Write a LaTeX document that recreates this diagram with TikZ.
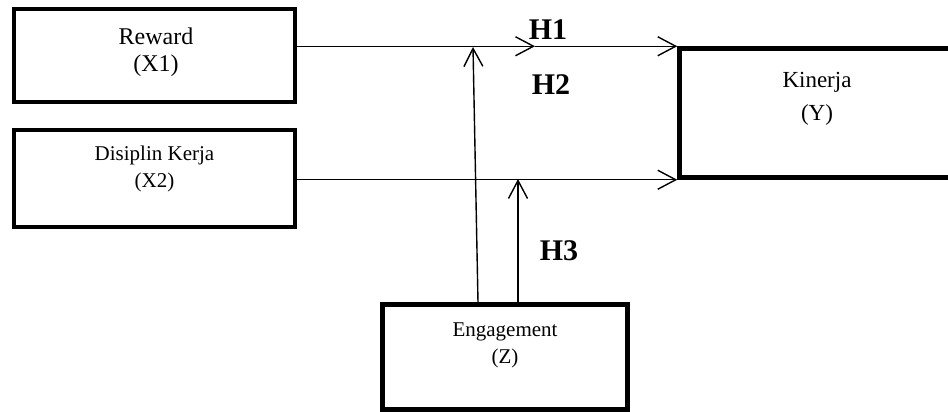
\documentclass[tikz,border=0pt]{standalone}
\usepackage{fontspec}
\setmainfont{Liberation Serif}
\usetikzlibrary{arrows.meta,calc}
\begin{document}
\begin{tikzpicture}[x=1pt,y=-1pt,
  boxnode/.style={draw=black, line width=4.5pt, rectangle, inner sep=0pt},
  conn/.style={line width=1.4pt, -{Straight Barb[length=18pt,width=19pt,line width=1.4pt]}},
  lbl/.style={align=center, inner sep=0pt, anchor=north},
  hyp/.style={font=\fontsize{30}{30}\selectfont\bfseries, inner sep=0pt, anchor=base}]
\useasboundingbox (0,0) rectangle (948,412);
% boxes
\node[boxnode, minimum width=281pt, minimum height=93pt] (x1) at (154.5,55.5) {};
\node[boxnode, minimum width=281pt, minimum height=97pt] (x2) at (154.5,178.5) {};
\node[boxnode, minimum width=400pt, minimum height=129pt] (y) at (879.5,113) {};
\node[boxnode, minimum width=245pt, minimum height=105pt] (z) at (505,357) {};
% texts
\node[lbl, font=\fontsize{24}{27}\selectfont] (tx1) at (156,28) {Reward\\(X1)};
\node[lbl, font=\fontsize{21}{27}\selectfont] (tx2) at (154.5,146) {Disiplin Kerja\\(X2)};
\node[lbl, font=\fontsize{23}{33}\selectfont] (ty) at (817,72) {Kinerja\\(Y)};
\node[lbl, font=\fontsize{21}{27}\selectfont] (tz) at (505,323) {Engagement\\(Z)};
% hypothesis labels
\node[hyp] (h1) at (548,40) {H1};
\node[hyp] (h2) at (551,95) {H2};
\node[hyp] (h3) at (559,260) {H3};
% connectors
\coordinate (m1) at (535,0);
\draw[conn] (x1.east |- y.north west) -- (m1 |- y.north west);
\draw[conn] (m1 |- y.north west) -- (y.north west);
\draw[conn] (x2.east |- y.south west) -- (y.south west);
\coordinate (v1top) at (473,47);
\coordinate (v2top) at (518,179);
\draw[conn] ($(z.north)+(-27,0)$) -- (v1top);
\draw[conn] ($(z.north)+(13,0)$) -- (v2top);
\end{tikzpicture}
\end{document}
